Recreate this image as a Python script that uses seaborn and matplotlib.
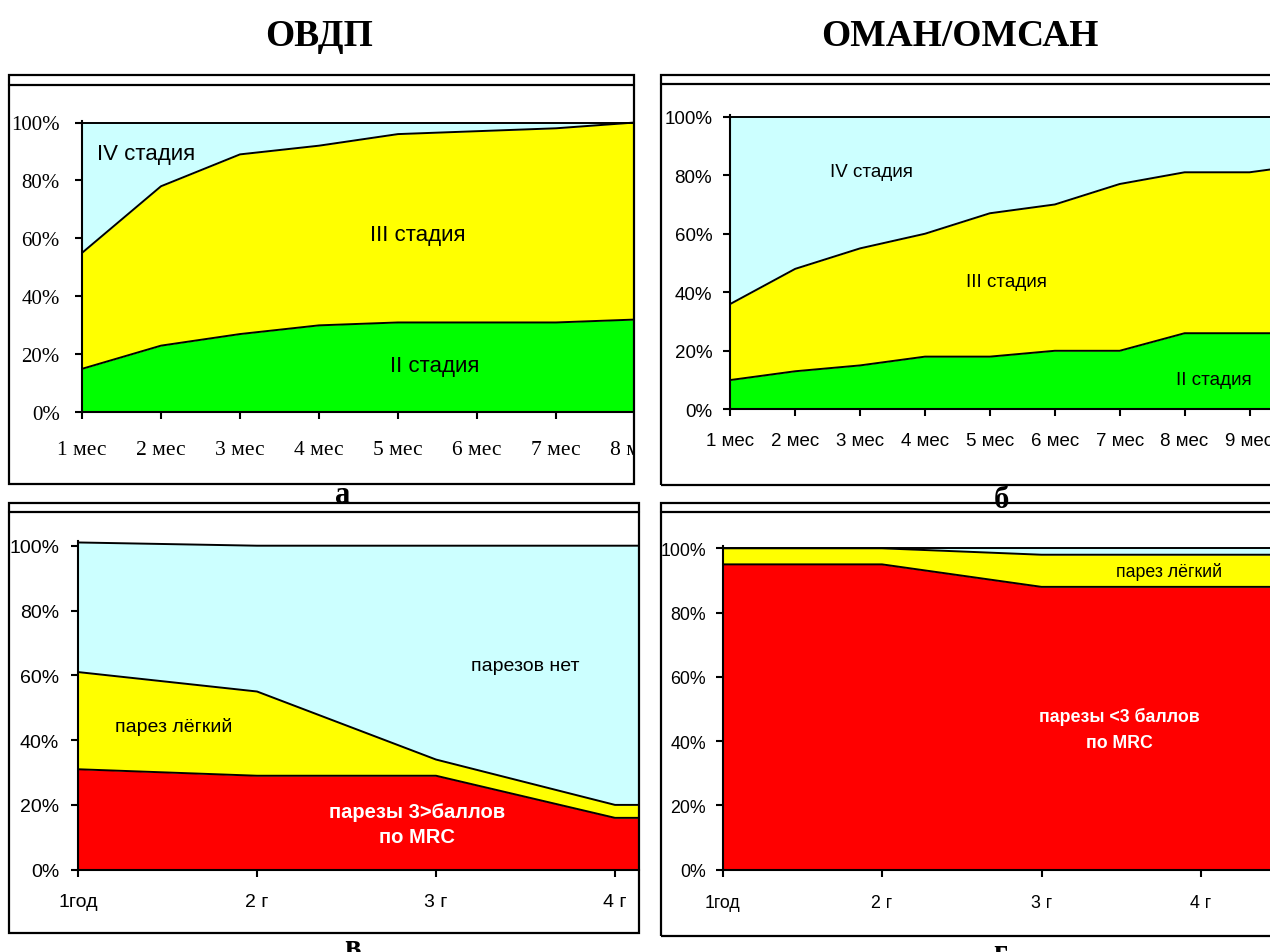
import numpy as np
import pandas as pd
import matplotlib
matplotlib.use("Agg")
import matplotlib.pyplot as plt
from matplotlib.patches import Rectangle
from matplotlib.lines import Line2D
from matplotlib import font_manager
import seaborn as sns

# ---------------- data ----------------
months_a = ["1 мес", "2 мес", "3 мес", "4 мес", "5 мес", "6 мес", "7 мес", "8 мес"]
ovdp_stage2 = [15, 23, 27, 30, 31, 31, 31, 32]
ovdp_stage3 = [40, 55, 62, 62, 65, 66, 67, 68]
ovdp_stage4 = [45, 22, 11, 8, 4, 3, 2, 0]

months_b = ["1 мес", "2 мес", "3 мес", "4 мес", "5 мес", "6 мес", "7 мес",
            "8 мес", "9 мес", "10 мес"]
oman_stage2 = [10, 13, 15, 18, 18, 20, 20, 26, 26, 26]
oman_stage3 = [26, 35, 40, 42, 49, 50, 57, 55, 55, 58]
oman_stage4 = [64, 52, 45, 40, 33, 30, 23, 19, 19, 16]

years = ["1год", "2 г", "3 г", "4 г", "5 г"]
ovdp_paresis_severe = [31, 29, 29, 16, 16]
ovdp_paresis_mild = [30, 26, 5, 4, 4]
ovdp_paresis_none = [40, 45, 66, 80, 80]

oman_paresis_severe = [95, 95, 88, 88, 88]
oman_paresis_mild = [5, 5, 10, 10, 10]
oman_paresis_none = [0, 0, 2, 2, 2]

pct_ticks = [0, 20, 40, 60, 80, 100]

CYAN, YELLOW, GREEN, RED = "#CCFFFF", "#FFFF00", "#00FF00", "#FF0000"

# ---------------- fonts / theme ----------------
sns.set_theme(style="white")
_names = {f.name for f in font_manager.fontManager.ttflist}
SERIF = "Liberation Serif"
SANS = "Liberation Sans"
HAS_NARROW = "Liberation Sans Narrow" in _names
NARROW = "Liberation Sans Narrow" if HAS_NARROW else "Liberation Sans"
NARROW_SCALE = 1.0 if HAS_NARROW else 0.88
plt.rcParams["font.family"] = [SANS, "DejaVu Sans"]
plt.rcParams["text.color"] = "black"
plt.rcParams["xtick.color"] = "black"
plt.rcParams["ytick.color"] = "black"

W, H = 1270, 953
fig = plt.figure(figsize=(W / 100, H / 100), dpi=100)
fig.patch.set_facecolor("white")


def fx(x):
    return x / W


def fy(y):
    return 1 - y / H


def make_axes(x0, dx, xmax, y0, y100, ytop):
    """Axes placed in pixel space: x0 = position of first category,
    dx = category spacing, y0 / y100 = pixel rows of 0% and 100%."""
    scale = (y0 - y100) / 100.0
    top = y0 - ytop * scale
    return fig.add_axes([x0 / W, (H - y0) / H, xmax * dx / W, (y0 - top) / H])


def draw_stack(ax, labels, layers, colors):
    x = np.arange(len(labels))
    lower = np.zeros(len(x))
    rows = []
    for k, (vals, c) in enumerate(zip(layers, colors)):
        upper = lower + np.asarray(vals, float)
        ax.fill_between(x, lower, upper, color=c, lw=0, zorder=1)
        rows += [{"x": xi, "y": yi, "edge": k} for xi, yi in zip(x, upper)]
        lower = upper
    df = pd.DataFrame(rows)
    sns.lineplot(data=df, x="x", y="y", units="edge", estimator=None,
                 color="black", lw=1.4, ax=ax, zorder=2, legend=False)


def style_axes(ax, labels, xmax, ytop, family, ysize, xsize, ypad, xpad):
    ax.set_xticks(np.arange(len(labels)))
    ax.set_xticklabels(labels)
    ax.set_yticks(pct_ticks)
    ax.set_yticklabels([f"{v}%" for v in pct_ticks])
    ax.set_xlim(0, xmax)
    ax.set_ylim(0, ytop)
    ax.set_xlabel("")
    ax.set_ylabel("")
    ax.grid(False)
    ax.set_facecolor("white")
    for s in ["top", "right"]:
        ax.spines[s].set_visible(False)
    for s in ["left", "bottom"]:
        ax.spines[s].set_color("black")
        ax.spines[s].set_linewidth(1.5)
        ax.spines[s].set_zorder(3)
    ax.tick_params(axis="both", direction="out", length=5, width=1.5,
                   color="black", bottom=True, left=True)
    ax.tick_params(axis="y", pad=ypad, labelsize=ysize, labelcolor="black")
    ax.tick_params(axis="x", pad=xpad, labelsize=xsize, labelcolor="black")
    for t in ax.get_xticklabels() + ax.get_yticklabels():
        t.set_fontfamily(family)


# ---------------- panel а: ОВДП, stages ----------------
ax_a = make_axes(82, 79, 7, 413.3, 123.5, 100.6)
draw_stack(ax_a, months_a, [ovdp_stage2, ovdp_stage3, ovdp_stage4],
           [GREEN, YELLOW, CYAN])
style_axes(ax_a, months_a, 7, 100.6, SERIF, 15, 15.5, 11, 15)
ax_a.text(0.81, 89.3, "IV стадия", ha="center", va="center", fontsize=16,
          family=SANS)
ax_a.text(4.25, 61.5, "III стадия", ha="center", va="center", fontsize=16,
          family=SANS)
ax_a.text(4.46, 16.1, "II стадия", ha="center", va="center", fontsize=16,
          family=SANS)

# ---------------- panel б: ОМАН/ОМСАН, stages ----------------
xmax_b = (W - 730.3) / 64.9
ax_b = make_axes(730.3, 64.9, xmax_b, 410.3, 117.7, 100.6)
draw_stack(ax_b, months_b, [oman_stage2, oman_stage3, oman_stage4],
           [GREEN, YELLOW, CYAN])
style_axes(ax_b, months_b, xmax_b, 100.6, SANS, 13.5, 13.5, 8, 11.5)
ax_b.text(2.18, 81.2, "IV стадия", ha="center", va="center", fontsize=13.5,
          family=SANS)
ax_b.text(4.26, 43.8, "III стадия", ha="center", va="center", fontsize=13.5,
          family=SANS)
ax_b.text(7.45, 10.1, "II стадия", ha="center", va="center", fontsize=13.5,
          family=SANS)

# ---------------- panel в: ОВДП, paresis ----------------
xmax_c = (638.5 - 78) / 179
ax_c = make_axes(78, 179, xmax_c, 870.7, 546.7, 101.6)
draw_stack(ax_c, years,
           [ovdp_paresis_severe, ovdp_paresis_mild, ovdp_paresis_none],
           [RED, YELLOW, CYAN])
style_axes(ax_c, years, xmax_c, 101.6, SANS, 14, 14, 8.5, 12)
ax_c.text(0.536, 44.4, "парез лёгкий", ha="center", va="center", fontsize=14,
          family=SANS)
ax_c.text(2.50, 63.0, "парезов нет", ha="center", va="center", fontsize=14,
          family=SANS)
ax_c.text(1.893, 18.0, "парезы 3>баллов", ha="center", va="center",
          fontsize=14.5, family=SANS, weight="bold", color="white")
ax_c.text(1.893, 10.2, "по MRC", ha="center", va="center",
          fontsize=14.5, family=SANS, weight="bold", color="white")

# ---------------- panel г: ОМАН/ОМСАН, paresis ----------------
xmax_d = (W - 722.5) / 159.5
ax_d = make_axes(722.5, 159.5, xmax_d, 870.7, 549.3, 100.6)
draw_stack(ax_d, years,
           [oman_paresis_severe, oman_paresis_mild, oman_paresis_none],
           [RED, YELLOW, CYAN])
style_axes(ax_d, years, xmax_d, 100.6, NARROW, 14.5 * NARROW_SCALE,
           14.5 * NARROW_SCALE, 7, 12.5)
ax_d.text(2.80, 93.0, "парез лёгкий", ha="center", va="center",
          fontsize=14.5 * NARROW_SCALE, family=NARROW)
ax_d.text(2.49, 47.9, "парезы <3 баллов", ha="center", va="center",
          fontsize=14.5 * NARROW_SCALE, family=NARROW, weight="bold",
          color="white")
ax_d.text(2.49, 39.6, "по MRC", ha="center", va="center",
          fontsize=14.5 * NARROW_SCALE, family=NARROW, weight="bold",
          color="white")

# ---------------- gap between the upper frames ----------------
fig.add_artist(Rectangle((fx(635.5), fy(490)), (660 - 635.5) / W, 420 / H,
                         transform=fig.transFigure, facecolor="white",
                         edgecolor="none", zorder=4))

# ---------------- panel letters ----------------
for letter, x, y in [("а", 342.7, 503.5), ("б", 1001.7, 507.5),
                     ("в", 352.7, 956), ("г", 1000, 961)]:
    fig.text(fx(x), fy(y), letter, ha="center", va="baseline", fontsize=22,
             family=SERIF, weight="bold", zorder=3, color="black")

# ---------------- frames ----------------
def frame(x0, y0, x1, y1, y_inner):
    fig.add_artist(Rectangle((fx(x0), fy(y1)), (x1 - x0) / W, (y1 - y0) / H,
                             transform=fig.transFigure, fill=False,
                             edgecolor="black", lw=1.6, zorder=5))
    fig.add_artist(Line2D([fx(x0), fx(x1)], [fy(y_inner), fy(y_inner)],
                          transform=fig.transFigure, color="black", lw=1.6,
                          zorder=5))


frame(9, 75.7, 634.3, 485, 85.7)
frame(661, 75.7, 1300, 486, 84.5)
frame(9, 504.4, 638.6, 933.8, 513.4)
frame(661, 504.4, 1300, 936.8, 513.4)

# ---------------- titles ----------------
fig.text(fx(319.5), fy(46), "ОВДП", ha="center", va="baseline", fontsize=27,
         family=SERIF, weight="bold", color="black")
fig.text(fx(960), fy(46), "ОМАН/ОМСАН", ha="center", va="baseline",
         fontsize=27, family=SERIF, weight="bold", color="black")

fig.savefig("out.png", dpi=100, facecolor="white")
